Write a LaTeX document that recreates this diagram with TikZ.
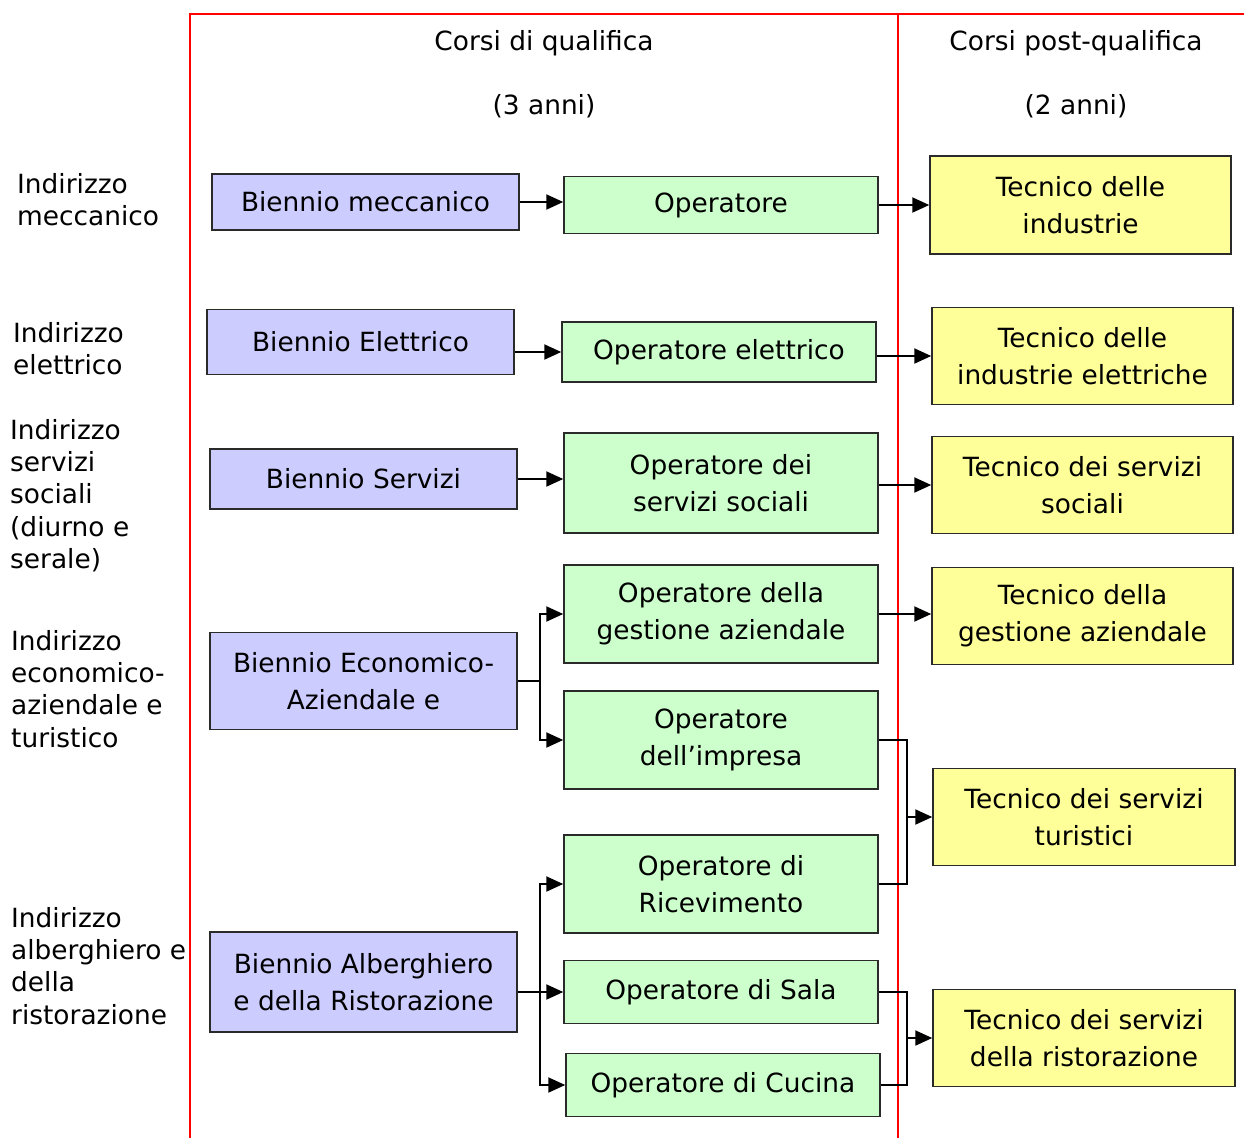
\documentclass[tikz,border=0pt]{standalone}
\usepackage{fontspec}
\setmainfont{DejaVu Sans}
\usetikzlibrary{arrows.meta}
\definecolor{bluefill}{HTML}{CCCCFF}
\definecolor{greenfill}{HTML}{CCFFCC}
\definecolor{yellowfill}{HTML}{FFFF99}
\definecolor{boxline}{HTML}{2A2A2A}
\tikzset{
  box/.style={draw=boxline, line width=1.5pt, align=center, inner sep=0pt,
    font=\fontsize{26.4}{37}\selectfont},
  bluebox/.style={box, fill=bluefill},
  greenbox/.style={box, fill=greenfill},
  yellowbox/.style={box, fill=yellowfill},
  sidelabel/.style={anchor=north west, align=left, inner sep=0pt,
    font=\fontsize{26.4}{32.3}\selectfont},
  header/.style={inner sep=0pt, font=\fontsize{26.4}{37}\selectfont},
  conn/.style={line width=2pt},
  arr/.style={conn, -{Triangle[length=17pt,width=15pt]}},
  redline/.style={red, line width=1.6pt}
}
\begin{document}
\begin{tikzpicture}[x=1pt,y=-1pt]
\useasboundingbox (0,0) rectangle (1244,1138);
% red frame
\draw[redline] (190,1138) -- (190,14) -- (1244,14);
\draw[redline] (898,14) -- (898,1138);
% headers
\node[header] (h1) at (544,43) {Corsi di qualifica};
\node[header] (h2) at (544,106) {(3 anni)};
\node[header] (h3) at (1076,43) {Corsi post-qualifica};
\node[header] (h4) at (1076,106) {(2 anni)};
% side labels
\node[sidelabel] (l1) at (17,173) {Indirizzo\\meccanico};
\node[sidelabel] (l2) at (13,322) {Indirizzo\\elettrico};
\node[sidelabel] (l3) at (10,419) {Indirizzo\\servizi\\sociali\\(diurno e\\serale)};
\node[sidelabel] (l4) at (11,630) {Indirizzo\\economico-\\aziendale e\\turistico};
\node[sidelabel] (l5) at (11,907) {Indirizzo\\alberghiero e\\della\\ristorazione};
% row 1
\node[bluebox, minimum width=307pt, minimum height=56pt] (b1) at (365.5,202) {Biennio meccanico};
\node[greenbox, minimum width=314pt, minimum height=57pt] (o1) at (721,205) {Operatore};
\node[yellowbox, minimum width=301pt, minimum height=98pt] (t1) at (1080.5,205) {Tecnico delle\\industrie};
% row 2
\node[bluebox, minimum width=307pt, minimum height=65pt] (b2) at (360.5,342) {Biennio Elettrico};
\node[greenbox, minimum width=314pt, minimum height=60pt] (o2) at (719,352) {Operatore elettrico};
\node[yellowbox, minimum width=301pt, minimum height=97pt] (t2) at (1082.5,356) {Tecnico delle\\industrie elettriche};
% row 3
\node[bluebox, minimum width=307pt, minimum height=60pt] (b3) at (363.5,479) {Biennio Servizi};
\node[greenbox, minimum width=314pt, minimum height=100pt] (o3) at (721,483) {Operatore dei\\servizi sociali};
\node[yellowbox, minimum width=301pt, minimum height=97pt] (t3) at (1082.5,485) {Tecnico dei servizi\\sociali};
% row 4
\node[bluebox, minimum width=307pt, minimum height=97pt] (b4) at (363.5,681) {Biennio Economico-\\Aziendale e};
\node[greenbox, minimum width=314pt, minimum height=98pt] (o4a) at (721,614) {Operatore della\\gestione aziendale};
\node[greenbox, minimum width=314pt, minimum height=98pt] (o4b) at (721,740) {Operatore\\dell’impresa};
\node[yellowbox, minimum width=301pt, minimum height=97pt] (t4) at (1082.5,616) {Tecnico della\\gestione aziendale};
\node[yellowbox, minimum width=302pt, minimum height=97pt] (t5) at (1084,817) {Tecnico dei servizi\\turistici};
% row 5
\node[bluebox, minimum width=307pt, minimum height=100pt] (b5) at (363.5,982) {Biennio Alberghiero\\e della Ristorazione};
\node[greenbox, minimum width=314pt, minimum height=98pt] (o5a) at (721,884) {Operatore di\\Ricevimento};
\node[greenbox, minimum width=314pt, minimum height=63pt] (o5b) at (721,992) {Operatore di Sala};
\node[greenbox, minimum width=314pt, minimum height=63pt] (o5c) at (723,1085) {Operatore di Cucina};
\node[yellowbox, minimum width=302pt, minimum height=97pt] (t6) at (1084,1038) {Tecnico dei servizi\\della ristorazione};
% connectors row 1-3
\draw[arr] (b1.east) -- (b1.east -| o1.west);
\draw[arr] (o1.east) -- (o1.east -| t1.west);
\draw[arr] (b2.east |- o2.west) -- (o2.west);
\draw[arr] (o2.east |- t2.west) -- (t2.west);
\draw[arr] (b3.east) -- (b3.east -| o3.west);
\draw[arr] (o3.east |- t3.west) -- (t3.west);
% row 4 branch
\coordinate (j4) at (540,681);
\draw[conn] (b4.east) -- (j4);
\draw[arr] (j4) |- (o4a.west);
\draw[arr] (j4) |- (o4b.west);
\draw[arr] (o4a.east) -- (o4a.east -| t4.west);
% merge to turistici
\coordinate (k1) at (907,817);
\draw[conn] (o4b.east) -| (k1) |- (o5a.east);
\draw[arr] (k1) -- (t5.west);
% row 5 branch
\coordinate (j5) at (540,992);
\draw[conn] (b5.east |- j5) -- (j5);
\draw[arr] (j5) |- (o5a.west);
\draw[arr] (j5) -- (o5b.west);
\draw[arr] (j5) |- (o5c.west);
% merge to ristorazione
\coordinate (k2) at (907,1038);
\draw[conn] (o5b.east) -| (k2) |- (o5c.east);
\draw[arr] (k2) -- (t6.west);
\end{tikzpicture}
\end{document}
